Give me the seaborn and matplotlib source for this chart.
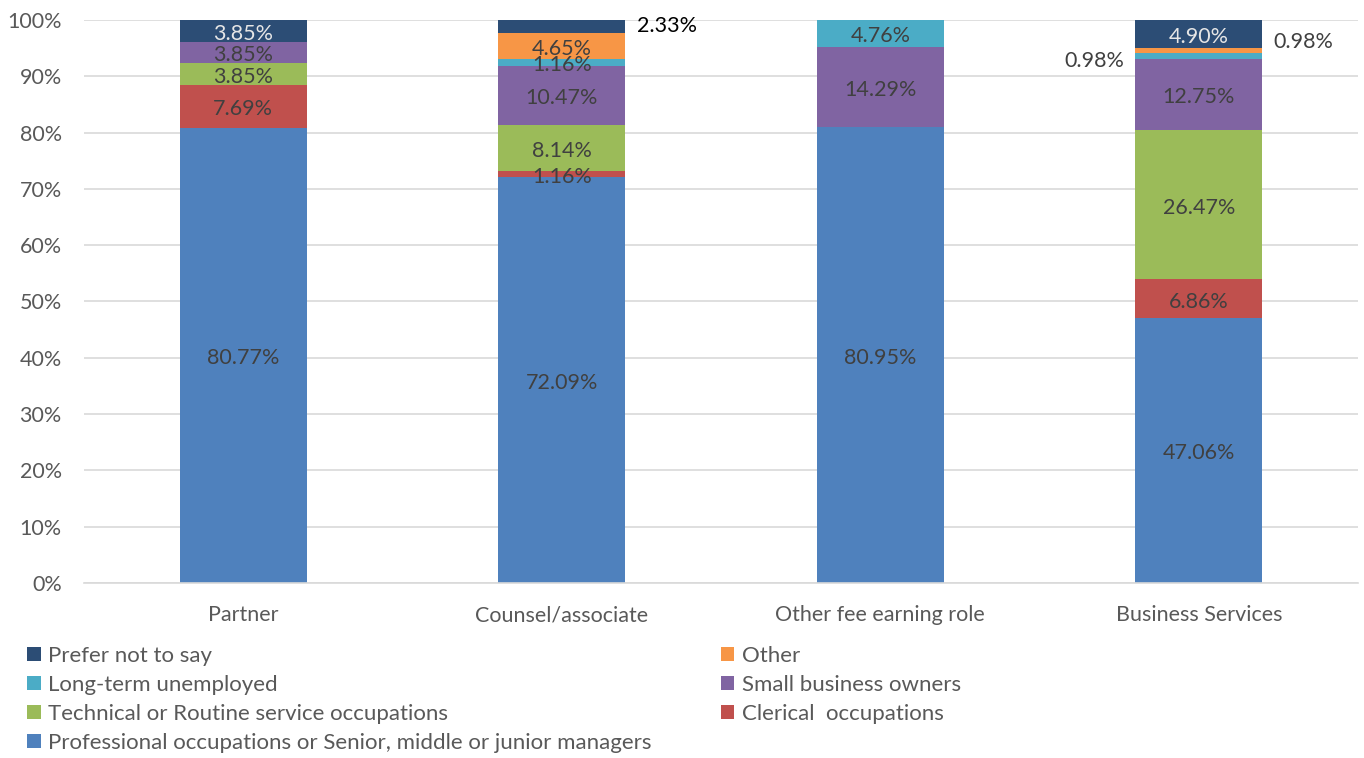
import matplotlib
matplotlib.use("Agg")
import matplotlib.pyplot as plt
import seaborn as sns
import numpy as np
import pandas as pd
from matplotlib.patches import Patch

categories = ["Partner", "Counsel/associate", "Other fee earning role", "Business Services"]
series_names = [
    "Professional occupations or Senior, middle or junior managers",
    "Clerical  occupations",
    "Technical or Routine service occupations",
    "Small business owners",
    "Long-term unemployed",
    "Other",
    "Prefer not to say",
]
professional = [80.77, 72.09, 80.95, 47.06]
clerical = [7.69, 1.16, 0.0, 6.86]
technical = [3.85, 8.14, 0.0, 26.47]
small_business = [3.85, 10.47, 14.29, 12.75]
long_term_unemployed = [0.0, 1.16, 4.76, 0.98]
other = [0.0, 4.65, 0.0, 0.98]
prefer_not = [3.85, 2.33, 0.0, 4.90]

colors = ["#4F81BD", "#C0504D", "#9BBB59", "#8064A2", "#4BACC6", "#F79646", "#2C4D75"]

series_values = [professional, clerical, technical, small_business,
                 long_term_unemployed, other, prefer_not]

sns.set_theme(style="white")
plt.rcParams["font.family"] = ["Lato", "DejaVu Sans"]

fig = plt.figure(figsize=(13.64, 7.58), dpi=100)
ax = fig.add_axes([0.0616, 0.2309, 0.9340, 0.7427])

vals = np.array(series_values)
cum = np.cumsum(vals, axis=0)
cum = cum / cum[-1] * 100.0
bottoms = np.vstack([np.zeros(len(categories)), cum[:-1]])

for i in range(len(series_names) - 1, -1, -1):
    df = pd.DataFrame({"cat": categories, "val": cum[i]})
    sns.barplot(data=df, x="cat", y="val", color=colors[i], width=0.4,
                saturation=1, ax=ax, zorder=2 + (len(series_names) - i) * 0.01,
                linewidth=0, order=categories)

ax.set_ylim(0, 100)
ax.set_xlim(-0.5, 3.5)
ax.set_yticks(np.arange(0, 101, 10))
ax.set_yticklabels([f"{t}%" for t in range(0, 101, 10)])
ax.yaxis.grid(True, color="#D9D9D9", linewidth=1.2, zorder=0)
ax.set_axisbelow(True)
for s in ["top", "right", "left"]:
    ax.spines[s].set_visible(False)
ax.spines["bottom"].set_color("#D9D9D9")
ax.spines["bottom"].set_linewidth(1.2)
ax.set_xlabel("")
ax.set_ylabel("")
ax.tick_params(axis="both", length=0, labelsize=15.5, colors="#595959")
ax.tick_params(axis="x", pad=16)
ax.tick_params(axis="y", pad=16)

label_fs = 15.5
special = {(6, 1): ("right_out", 98.9), (4, 3): ("left_out", 92.7), (5, 3): ("right_out", 96.1)}
for i in range(len(series_names)):
    for j in range(len(categories)):
        v = vals[i, j]
        if v <= 0:
            continue
        txt = f"{v:.2f}%"
        if (i, j) in special:
            kind, yv = special[(i, j)]
            if kind == "right_out":
                ax.text(j + 0.235, yv, txt, ha="left", va="center", fontsize=label_fs,
                        color="#000000" if j == 1 else "#404040", zorder=10)
            else:
                ax.text(j - 0.235, yv, txt, ha="right", va="center", fontsize=label_fs,
                        color="#404040", zorder=10)
            continue
        yc = bottoms[i, j] + (cum[i, j] - bottoms[i, j]) / 2 - 0.5
        col = "#E6E6E6" if i == 6 else "#404040"
        ax.text(j, yc, txt, ha="center", va="center", fontsize=label_fs, color=col, zorder=10)

order = [6, 4, 2, 0, 5, 3, 1]
handles = [Patch(facecolor=colors[k], edgecolor="none") for k in order]
labels = [series_names[k] for k in order]
leg = fig.legend(handles, labels, loc="upper left", bbox_to_anchor=(0.020, 0.148),
                 ncol=2, frameon=False, fontsize=16, handlelength=0.6, handleheight=0.6,
                 handletextpad=0.35, columnspacing=3.1, labelspacing=0.41,
                 borderaxespad=0, borderpad=0)
for t in leg.get_texts():
    t.set_color("#595959")

fig.savefig("out.png", dpi=100)
